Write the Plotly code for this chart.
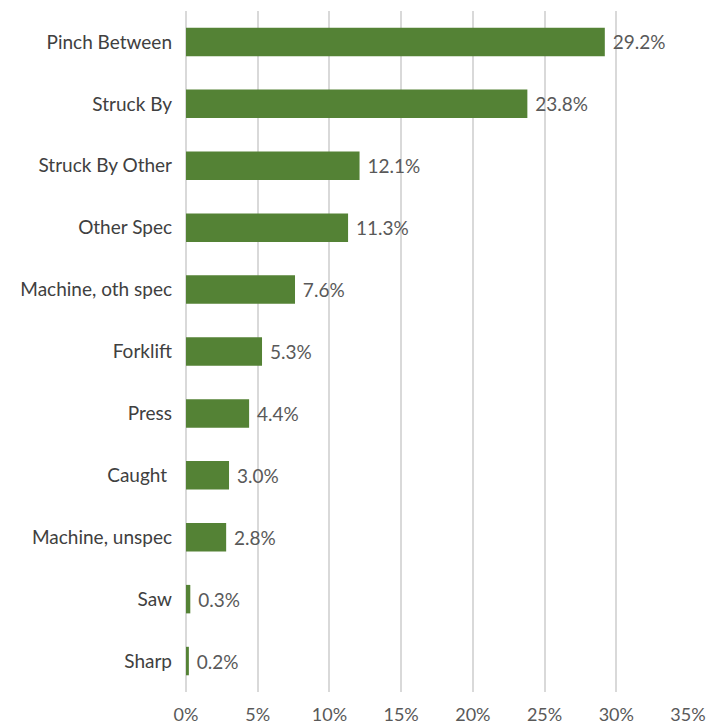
import plotly.graph_objects as go

categories = ["Pinch Between", "Struck By", "Struck By Other", "Other Spec",
              "Machine, oth spec", "Forklift", "Press", "Caught ",
              "Machine, unspec", "Saw", "Sharp"]
values = [29.2, 23.8, 12.1, 11.3, 7.6, 5.3, 4.4, 3.0, 2.8, 0.3, 0.2]
tick_vals = [0, 5, 10, 15, 20, 25, 30, 35]
tick_text = ["0%", "5%", "10%", "15%", "20%", "25%", "30%", "35%"]

font_family = "Lato, 'Open Sans', sans-serif"
gray = "#595959"

fig = go.Figure(go.Bar(
    x=values, y=categories, orientation="h",
    marker=dict(color="#548235", line=dict(width=0)),
    width=0.46,
    text=[f"\u00a0{v:.1f}%" for v in values],
    textposition="outside",
    textfont=dict(family=font_family, size=19, color=gray),
    cliponaxis=False,
))

fig.update_layout(
    width=720, height=727,
    margin=dict(l=186, r=32, t=11, b=35, autoexpand=False),
    plot_bgcolor="white", paper_bgcolor="white",
    showlegend=False,
    font=dict(family=font_family, size=19, color=gray),
    xaxis=dict(range=[0, 35], tickvals=tick_vals, ticktext=tick_text,
               showgrid=True, gridcolor="#d9d9d9", gridwidth=1.5,
               zeroline=True, zerolinecolor="#d9d9d9", zerolinewidth=1.5,
               showline=False, ticks="", ticklabelstandoff=10,
               automargin=False,
               tickfont=dict(family=font_family, size=18, color=gray)),
    yaxis=dict(categoryorder="array", categoryarray=categories[::-1],
               showgrid=False, showline=False, ticks="",
               ticklabelstandoff=13, automargin=False,
               tickfont=dict(family=font_family, size=19, color="#404040")),
    bargap=0.54,
)

fig.write_html("out.html",
               config={"displayModeBar": False},
               post_script="document.body.style.margin='0';document.body.style.overflow='hidden';")
